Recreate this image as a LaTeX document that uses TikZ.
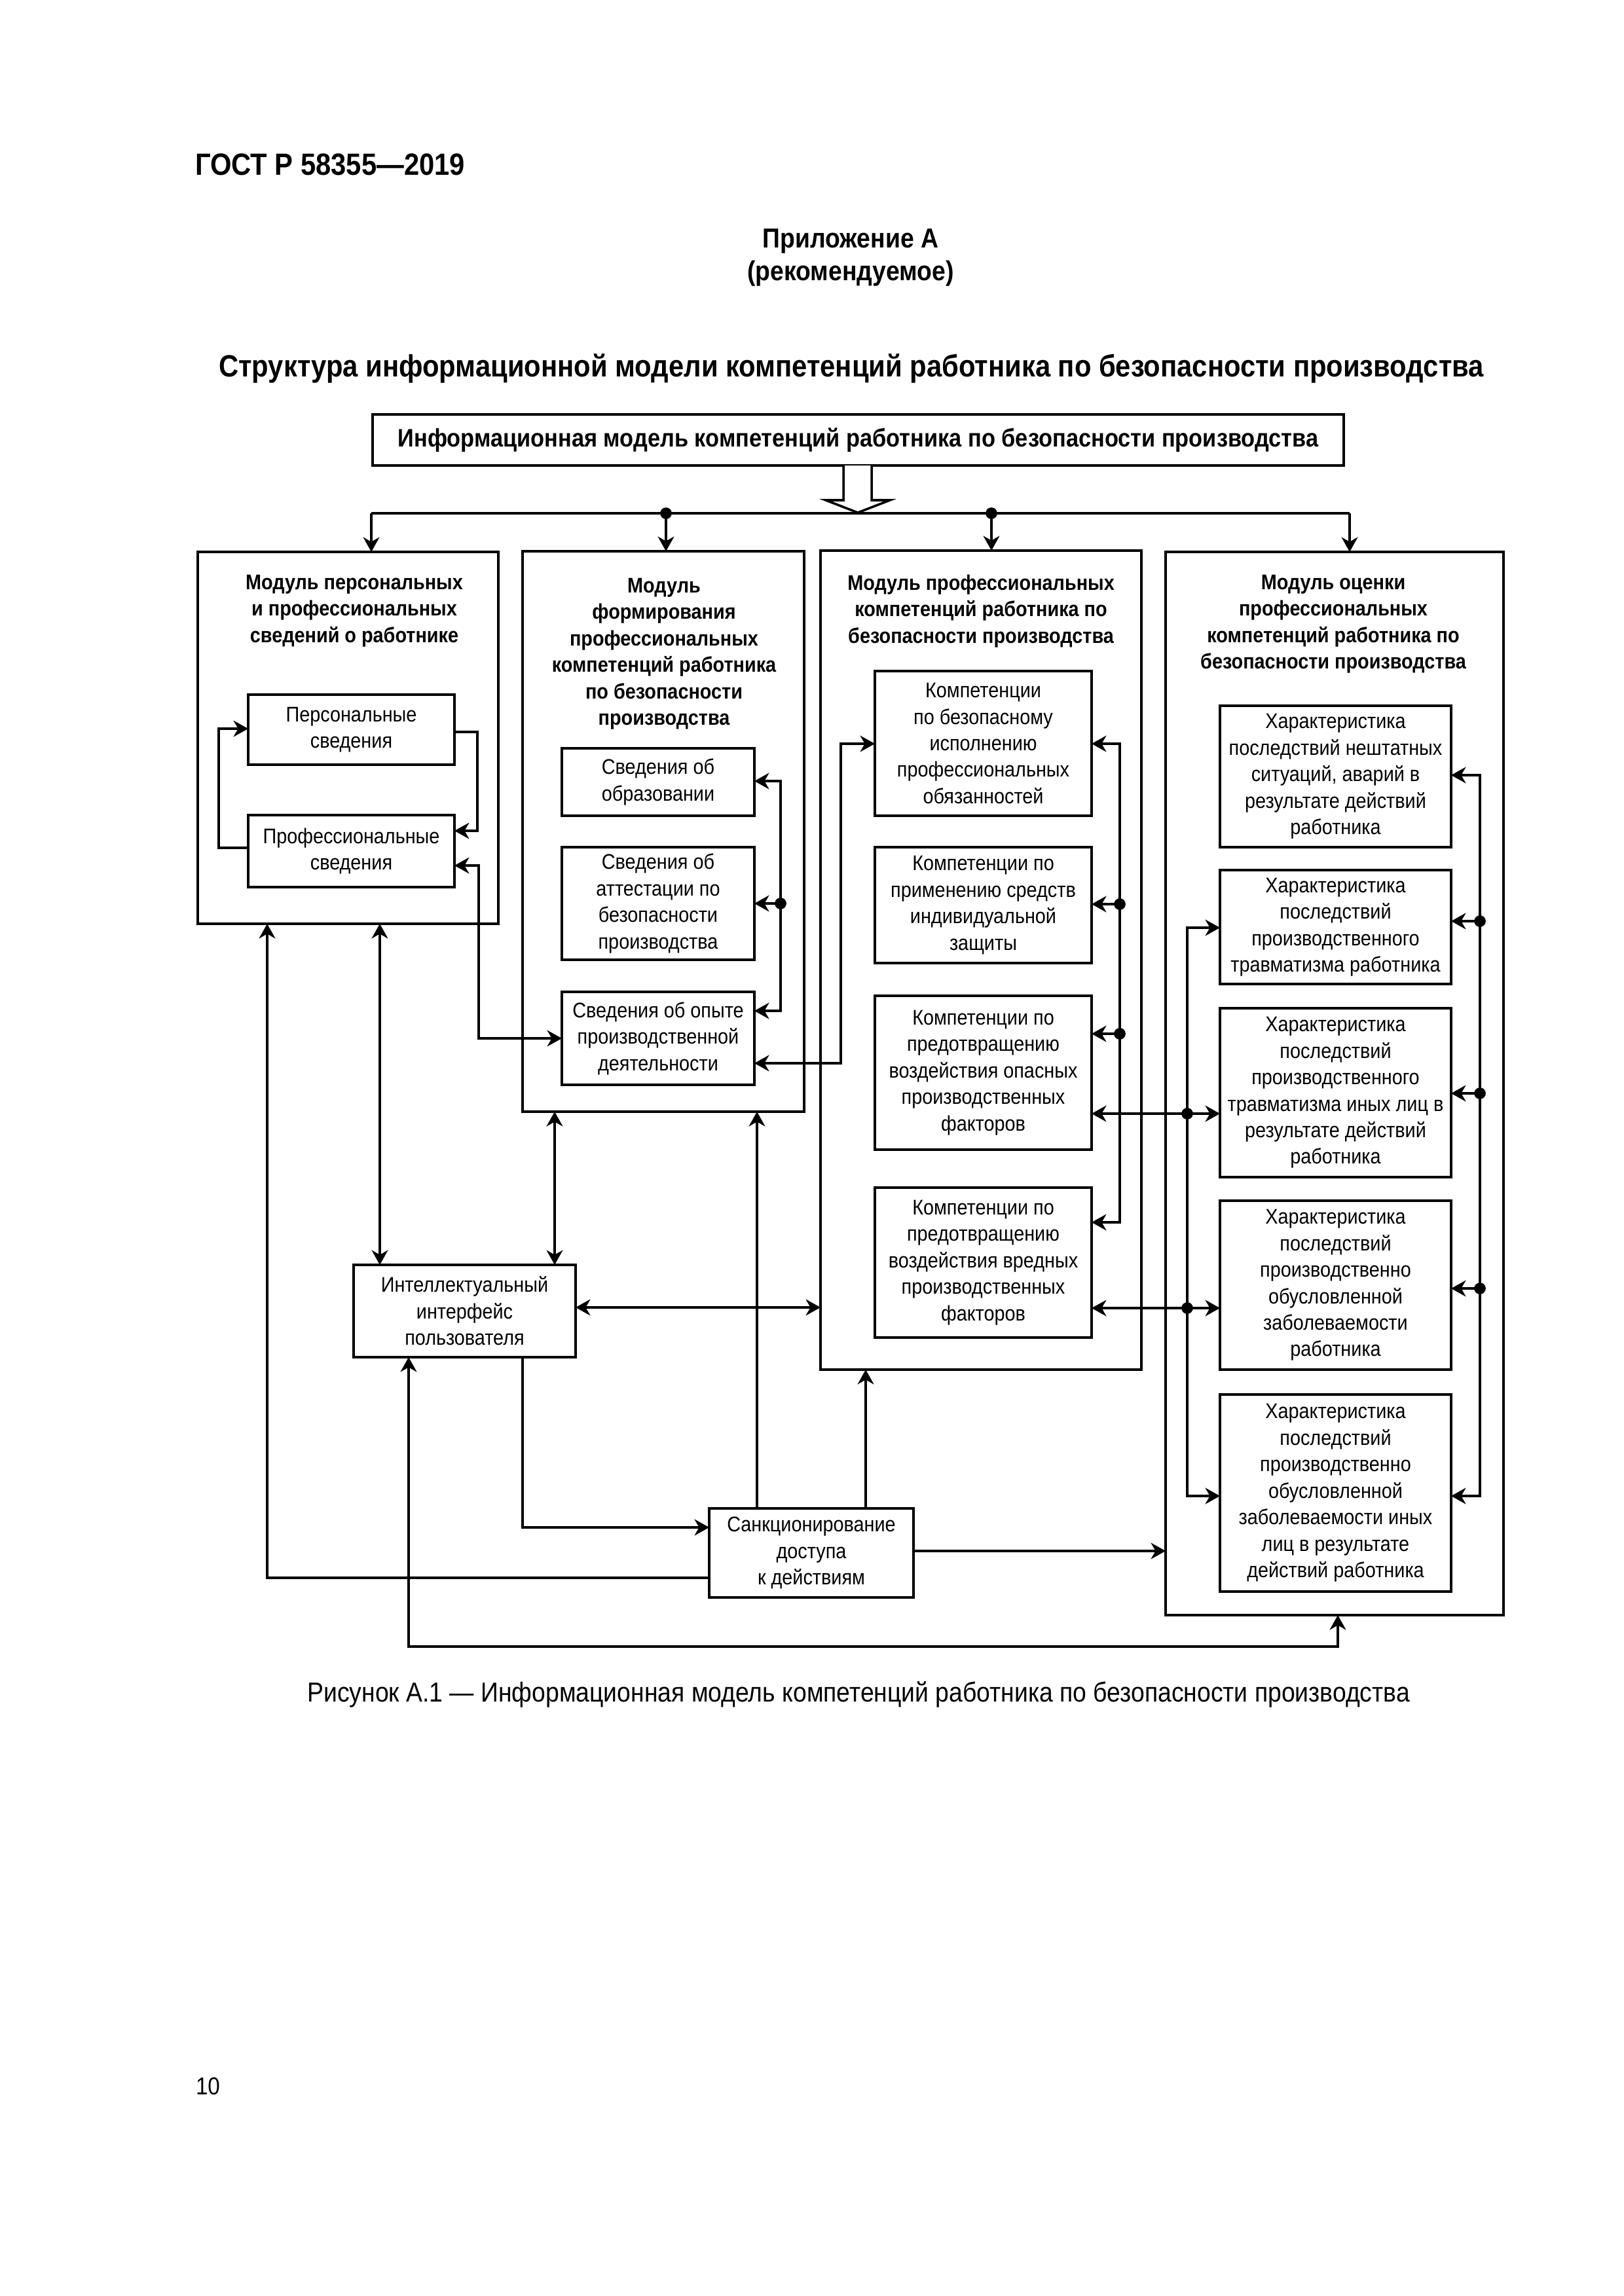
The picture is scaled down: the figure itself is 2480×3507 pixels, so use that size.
\documentclass[tikz,border=0pt]{standalone}
\usepackage{fontspec}
\setmainfont[FakeStretch=0.89]{Liberation Sans}
\usetikzlibrary{arrows.meta,calc}
\newcommand\dgfont{\fontsize{7.8}{9.75}\selectfont}
\newcommand\bx[7]{\node[#2,minimum width={(#5-#3)*0.084667mm},minimum height={(#6-#4)*0.084667mm}] (#1) at ({(#3+#5)/2},{(#4+#6)/2}) {#7};}
\tikzset{
  box/.style={draw, line width=0.85pt, inner sep=0pt, outer sep=0pt, align=center, font=\dgfont},
  ttl/.style={inner sep=0pt, align=center, anchor=north, font=\bfseries\dgfont},
  ln/.style={line width=0.85pt},
  dot/.style={circle, fill, inner sep=0pt, minimum size=1.5mm},
  txt/.style={inner sep=0pt, outer sep=0pt}
}
\begin{document}
\begin{tikzpicture}[x=0.084667mm, y=-0.084667mm, >={Stealth[length=1.9mm,width=2.1mm,inset=0.6mm]}]
\fill[white] (0,0) rectangle (2480,3507);
\useasboundingbox (0,0) rectangle (2480,3507);

% page texts
\node[txt, anchor=base west, font=\bfseries\fontsize{11.3}{13}\selectfont] (gost) at (298,267) {ГОСТ Р 58355—2019};
\node[txt, anchor=base, font=\bfseries\fontsize{10.1}{12}\selectfont] (app) at (1299,378) {Приложение А};
\node[txt, anchor=base, font=\bfseries\fontsize{10.1}{12}\selectfont] (rec) at (1299,428) {(рекомендуемое)};
\node[txt, anchor=base, font=\bfseries\fontsize{11.3}{13}\selectfont] (title) at (1300,575) {Структура информационной модели компетенций работника по безопасности производства};
\node[txt, anchor=base, font=\fontsize{10.1}{12}\selectfont] (caption) at (1311,2599) {Рисунок А.1 — Информационная модель компетенций работника по безопасности производства};
\node[txt, anchor=base west, font=\fontsize{9}{11}\selectfont] (pg) at (299,3199) {10};

% top box
\bx{top}{box,font=\bfseries\fontsize{9.3}{11}\selectfont}{569}{633}{2052}{711}{Информационная модель компетенций работника по безопасности производства}

% modules
\bx{B1}{box}{302}{843}{761}{1411}{}
\bx{B2}{box}{798}{842}{1228}{1698}{}
\bx{B3}{box}{1253}{841}{1743}{2092}{}
\bx{B4}{box}{1780}{843}{2296}{2467}{}
\node[ttl] (t1) at (541,877) {Модуль персональных\\и профессиональных\\сведений о работнике};
\node[ttl] (t2) at (1014,882) {Модуль\\формирования\\профессиональных\\компетенций работника\\по безопасности\\производства};
\node[ttl] (t3) at (1498,877) {Модуль профессиональных\\компетенций работника по\\безопасности производства};
\node[ttl] (t4) at (2036,877) {Модуль оценки\\профессиональных\\компетенций работника по\\безопасности производства};

% inner boxes
\bx{P1}{box}{379}{1061}{694}{1168}{Персональные\\сведения}
\bx{P2}{box}{379}{1245}{694}{1355}{Профессиональные\\сведения}
\bx{S1}{box}{858}{1143}{1152}{1246}{Сведения об\\образовании}
\bx{S2}{box}{858}{1294}{1152}{1466}{Сведения об\\аттестации по\\безопасности\\производства}
\bx{S3}{box}{858}{1515}{1152}{1657}{Сведения об опыте\\производственной\\деятельности}
\bx{K1}{box}{1336}{1025}{1667}{1246}{Компетенции\\по безопасному\\исполнению\\профессиональных\\обязанностей}
\bx{K2}{box}{1336}{1294}{1667}{1471}{Компетенции по\\применению средств\\индивидуальной\\защиты}
\bx{K3}{box}{1336}{1521}{1667}{1756}{Компетенции по\\предотвращению\\воздействия опасных\\производственных\\факторов}
\bx{K4}{box}{1336}{1814}{1667}{2043}{Компетенции по\\предотвращению\\воздействия вредных\\производственных\\факторов}
\bx{X1}{box}{1863}{1078}{2216}{1294}{Характеристика\\последствий нештатных\\ситуаций, аварий в\\результате действий\\работника}
\bx{X2}{box}{1863}{1329}{2216}{1503}{Характеристика\\последствий\\производственного\\травматизма работника}
\bx{X3}{box}{1863}{1540}{2216}{1798}{Характеристика\\последствий\\производственного\\травматизма иных лиц в\\результате действий\\работника}
\bx{X4}{box}{1863}{1834}{2216}{2092}{Характеристика\\последствий\\производственно\\обусловленной\\заболеваемости\\работника}
\bx{X5}{box}{1863}{2130}{2216}{2431}{Характеристика\\последствий\\производственно\\обусловленной\\заболеваемости иных\\лиц в результате\\действий работника}
\bx{I}{box}{540}{1932}{879}{2073}{Интеллектуальный\\интерфейс\\пользователя}
\bx{S}{box}{1083}{2304}{1395}{2440}{Санкционирование\\доступа\\к действиям}

% top bus
\coordinate (busL) at (567,784);
\coordinate (busR) at (2061,784);
\coordinate (bus2) at (1017,784);
\coordinate (bus3) at (1514,784);
\draw[ln] (busL) -- (busR);
\draw[ln,->] (busL) -- (B1.north -| busL);
\draw[ln,->] (bus2) -- (B2.north -| bus2);
\draw[ln,->] (bus3) -- (B3.north -| bus3);
\draw[ln,->] (busR) -- (B4.north -| busR);
\node[dot] (d1) at (bus2) {};
\node[dot] (d2) at (bus3) {};
% hollow arrow
\draw[ln, fill=white] (1288,711) -- (1288,764) -- (1261,764) -- (1310,783) -- (1359,764) -- (1331,764) -- (1331,711);

% module 1 internals
\coordinate (c1) at (729,1118); \coordinate (c2) at (729,1269);
\draw[ln,->] (P1.east |- c1) -- (c1) -- (c2) -- (P2.east |- c2);
\coordinate (c3) at (334,1295); \coordinate (c4) at (334,1113);
\draw[ln,->] (P2.west |- c3) -- (c3) -- (c4) -- (P1.west |- c4);
\coordinate (c5) at (731,1322); \coordinate (c6) at (731,1586);
\draw[ln,<->] (P2.east |- c5) -- (c5) -- (c6) -- (S3.west |- c6);

% module 2 bus
\coordinate (sb1) at (1192,1193); \coordinate (sb2) at (1192,1380); \coordinate (sb3) at (1192,1544);
\draw[ln,<->] (S1.east |- sb1) -- (sb1) -- (sb3) -- (S3.east |- sb3);
\draw[ln,->] (sb2) -- (S2.east |- sb2);
\node[dot] (d3) at (sb2) {};

% S3 <-> K1
\coordinate (c7) at (1284,1624); \coordinate (c8) at (1284,1136);
\draw[ln,<->] (S3.east |- c7) -- (c7) -- (c8) -- (K1.west |- c8);

% module 3 bus
\coordinate (kb1) at (1710,1136); \coordinate (kb2) at (1710,1381);
\coordinate (kb3) at (1710,1579); \coordinate (kb4) at (1710,1867);
\draw[ln,<->] (K1.east |- kb1) -- (kb1) -- (kb4) -- (K4.east |- kb4);
\draw[ln,->] (kb2) -- (K2.east |- kb2);
\draw[ln,->] (kb3) -- (K3.east |- kb3);
\node[dot] (d4) at (kb2) {};
\node[dot] (d5) at (kb3) {};

% K3/K4 <-> X3/X4 and left bus of module 4
\coordinate (lb2) at (1813,1417); \coordinate (lb3) at (1813,1701);
\coordinate (lb4) at (1813,1998); \coordinate (lb5) at (1813,2285);
\draw[ln,<->] (K3.east |- lb3) -- (X3.west |- lb3);
\draw[ln,<->] (K4.east |- lb4) -- (X4.west |- lb4);
\draw[ln,<->] (X2.west |- lb2) -- (lb2) -- (lb5) -- (X5.west |- lb5);
\node[dot] (d6) at (lb3) {};
\node[dot] (d7) at (lb4) {};

% right bus of module 4
\coordinate (rb1) at (2260,1184); \coordinate (rb2) at (2260,1407);
\coordinate (rb3) at (2260,1670); \coordinate (rb4) at (2260,1968);
\coordinate (rb5) at (2260,2285);
\draw[ln,<->] (X1.east |- rb1) -- (rb1) -- (rb5) -- (X5.east |- rb5);
\draw[ln,->] (rb2) -- (X2.east |- rb2);
\draw[ln,->] (rb3) -- (X3.east |- rb3);
\draw[ln,->] (rb4) -- (X4.east |- rb4);
\node[dot] (d8) at (rb2) {};
\node[dot] (d9) at (rb3) {};
\node[dot] (d10) at (rb4) {};

% lower connectors
\coordinate (l1) at (408,2410);
\draw[ln,->] (S.west |- l1) -- (l1) -- (B1.south -| l1);
\coordinate (l2) at (580,1600);
\draw[ln,<->] (B1.south -| l2) -- (I.north -| l2);
\coordinate (l3) at (847,1800);
\draw[ln,<->] (B2.south -| l3) -- (I.north -| l3);
\coordinate (l4) at (1156,2000);
\draw[ln,->] (S.north -| l4) -- (B2.south -| l4);
\coordinate (l5) at (1322,2200);
\draw[ln,->] (S.north -| l5) -- (B3.south -| l5);
\coordinate (l6) at (1000,1997);
\draw[ln,<->] (I.east |- l6) -- (B3.west |- l6);
\coordinate (l7) at (798,2333);
\draw[ln,->] (I.south -| l7) -- (l7) -- (S.west |- l7);
\coordinate (l8) at (1600,2369);
\draw[ln,->] (S.east |- l8) -- (B4.west |- l8);
\coordinate (l9) at (624,2515); \coordinate (l10) at (2043,2515);
\draw[ln,<->] (I.south -| l9) -- (l9) -- (l10) -- (B4.south -| l10);
\end{tikzpicture}
\end{document}
